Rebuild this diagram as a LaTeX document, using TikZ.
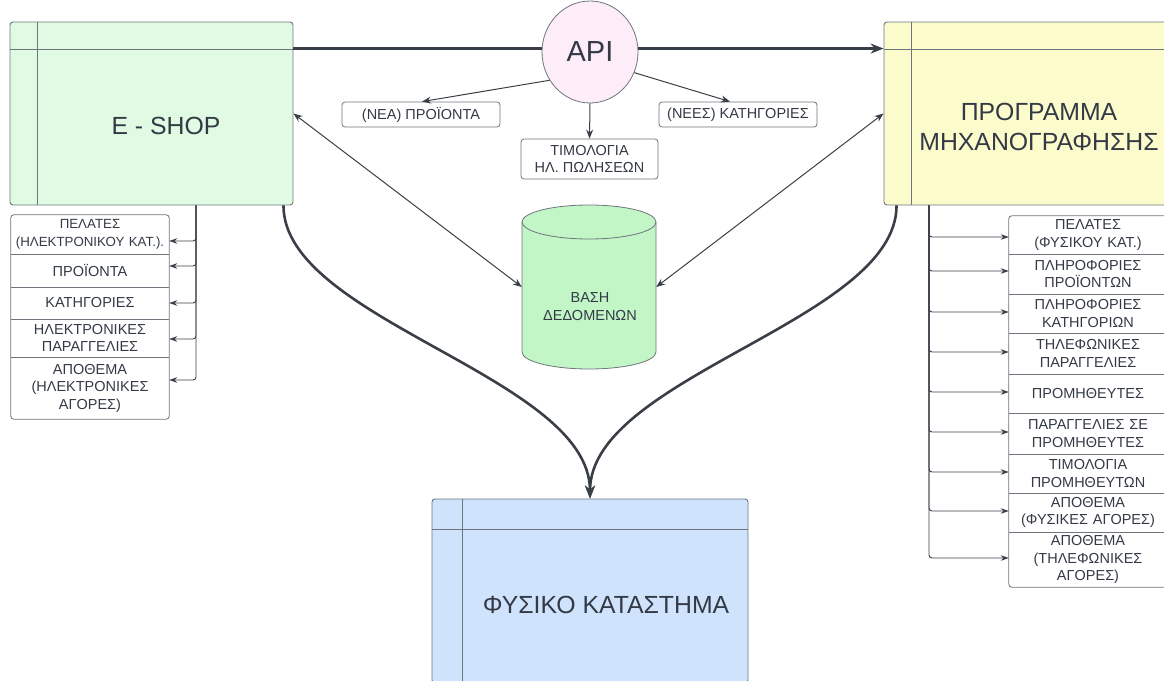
\documentclass[tikz,border=0pt]{standalone}
\usepackage{fontspec}
\setmainfont{Liberation Sans}
\usetikzlibrary{shapes.geometric,arrows.meta,calc}
\definecolor{txt}{HTML}{333A45}
\definecolor{bord}{HTML}{6E757D}
\definecolor{ln}{HTML}{3A3F47}
\definecolor{gfill}{HTML}{E1FAE3}
\definecolor{yfill}{HTML}{FCFBCB}
\definecolor{bfill}{HTML}{CFE4FC}
\definecolor{pfill}{HTML}{FDEDF8}
\definecolor{dbfill}{HTML}{C2F6C6}
\begin{document}
\begin{tikzpicture}[x=1pt,y=-1pt,
  bigbox/.style={draw=bord, line width=0.9pt, rounded corners=3pt, minimum width=283pt, minimum height=183pt, inner sep=0pt},
  hdr/.style={draw=bord, line width=0.9pt},
  bigtxt/.style={text=txt, font=\fontsize{24.8}{30}\selectfont, align=center, inner sep=0pt},
  lbl/.style={draw=bord, rounded corners=3pt, line width=0.8pt, fill=white, text=txt, font=\fontsize{14.5}{17.5}\selectfont, align=center, inner sep=0pt},
  listrow/.style={text=txt, font=\fontsize{14.5}{17.5}\selectfont, align=center, inner sep=0pt, minimum width=158pt, text width=158pt},
  listframe/.style={draw=bord, line width=0.8pt, rounded corners=3pt},
  sep/.style={draw=bord, line width=0.8pt},
  heavy/.style={draw=ln, line width=2.6pt},
  heavyarrow/.style={draw=ln, line width=2.6pt, -{Stealth[length=13pt,width=10pt]}},
  thinarrow/.style={draw=ln, line width=1pt, -{Stealth[length=9pt,width=7pt]}},
  dblarrow/.style={draw=ln, line width=1pt, {Stealth[length=9pt,width=7pt]}-{Stealth[length=9pt,width=7pt]}},
  bus/.style={draw=ln, line width=0.9pt, rounded corners=3pt, -{Stealth[length=8pt,width=5.5pt]}},
]
\useasboundingbox (0,0) rectangle (1164,680);

% ---------- big boxes ----------
\node[bigbox, fill=gfill] (eshop) at (151.5,113.5) {};
\draw[hdr] ([yshift=-28pt]eshop.north west) -- ([yshift=-28pt]eshop.north east);
\draw[hdr] ([xshift=28pt]eshop.north west) -- ([xshift=28pt]eshop.south west);
\node[bigtxt] (eshopt) at (166,126) {E - SHOP};

\node[bigbox, fill=yfill] (prog) at (1025.5,113.5) {};
\draw[hdr] ([yshift=-28pt]prog.north west) -- ([yshift=-28pt]prog.north east);
\draw[hdr] ([xshift=28pt]prog.north west) -- ([xshift=28pt]prog.south west);
\node[bigtxt] (progt) at (1039,127) {ΠΡΟΓΡΑΜΜΑ\\ΜΗΧΑΝΟΓΡΑΦΗΣΗΣ};

\node[bigbox, fill=bfill, minimum width=316pt, minimum height=184pt] (phys) at (590,591) {};
\draw[hdr] ([yshift=-31pt]phys.north west) -- ([yshift=-31pt]phys.north east);
\draw[hdr] ([xshift=31pt]phys.north west) -- ([xshift=31pt]phys.south west);
\node[bigtxt] (physt) at (606,605) {ΦΥΣΙΚΟ ΚΑΤΑΣΤΗΜΑ};

% ---------- API ----------
\node[ellipse, draw=bord, line width=0.8pt, fill=pfill, minimum width=96pt, minimum height=102pt, inner sep=0pt,
      text=txt, font=\fontsize{29}{29}\selectfont] (api) at (590,52) {API};

\node[lbl, minimum width=158pt, minimum height=25pt] (neu) at (421,114.5) {(ΝΕΑ) ΠΡΟΪΟΝΤΑ};
\node[lbl, minimum width=137pt, minimum height=40pt] (tim) at (589.5,159) {ΤΙΜΟΛΟΓΙΑ\\ΗΛ. ΠΩΛΗΣΕΩΝ};
\node[lbl, minimum width=158pt, minimum height=25pt] (kat) at (738,114.5) {(ΝΕΕΣ) ΚΑΤΗΓΟΡΙΕΣ};

% ---------- database ----------
\node[minimum width=134pt, minimum height=164pt, inner sep=0pt] (db) at (589,287) {};
\draw[draw=bord, fill=dbfill, line width=0.8pt]
  (522,222) -- (522,352) arc (180:360:67pt and 17pt) -- (656,222) arc (0:180:67pt and 17pt) -- cycle;
\draw[draw=bord, line width=0.8pt] (522,222) arc (180:360:67pt and 17pt);
\node[text=txt, font=\fontsize{14.5}{18}\selectfont, align=center, inner sep=0pt] (dbt) at (590,307) {ΒΑΣΗ\\ΔΕΔΟΜΕΝΩΝ};

% ---------- connectors ----------
\coordinate (eL) at ([yshift=-27pt]eshop.north east);
\coordinate (pL) at ([yshift=-27pt]prog.north west);
\draw[heavy] (eL) -- (eL -| api.west);
\draw[heavyarrow] (pL -| api.east) -- (pL);

\draw[thinarrow] (api.215) -- ([xshift=1pt]neu.north);
\draw[thinarrow] (api.south) -- (tim.north);
\draw[thinarrow] (api.335) -- ([xshift=-8pt]kat.north);

\draw[dblarrow] (eshop.east) -- (db.west);
\draw[dblarrow] (prog.west) -- (db.east);

\draw[heavyarrow] ([xshift=-10pt]eshop.south east) .. controls +(0,115) and +(0,-122) .. (phys.north);
\draw[heavyarrow] ([xshift=13pt]prog.south west) .. controls +(0,115) and +(0,-122) .. (phys.north);

% ---------- left list ----------
\node[listrow, minimum height=39pt, font=\fontsize{13.3}{17.5}\selectfont] (r1) at (90,234.5) {ΠΕΛΑΤΕΣ\\(ΗΛΕΚΤΡΟΝΙΚΟΥ ΚΑΤ.).};
\node[listrow, minimum height=33pt] (r2) at (90,270.5) {ΠΡΟΪΟΝΤΑ};
\node[listrow, minimum height=32pt] (r3) at (90,303) {ΚΑΤΗΓΟΡΙΕΣ};
\node[listrow, minimum height=38pt] (r4) at (90,338) {ΗΛΕΚΤΡΟΝΙΚΕΣ\\ΠΑΡΑΓΓΕΛΙΕΣ};
\node[listrow, minimum height=62pt] (r5) at (90,388) {ΑΠΟΘΕΜΑ\\(ΗΛΕΚΤΡΟΝΙΚΕΣ\\ΑΓΟΡΕΣ)};
\draw[listframe] (r1.north west) rectangle (r5.south east);
\foreach \n in {r1,r2,r3,r4} \draw[sep] (\n.south west) -- (\n.south east);

\coordinate (lb) at ([xshift=44.5pt]eshop.south);
\draw[bus] (lb) |- ([yshift=-6.5pt]r1.east);
\draw[bus] (lb) |- ([yshift=4.5pt]r2.east);
\draw[bus] (lb) |- (r3.east);
\draw[bus] (lb) |- ([yshift=-1pt]r4.east);
\draw[bus] (lb) |- ([yshift=8pt]r5.east);

% ---------- right list ----------
\node[listrow, minimum height=38pt] (q1) at (1088,235) {ΠΕΛΑΤΕΣ\\(ΦΥΣΙΚΟΥ ΚΑΤ.)};
\node[listrow, minimum height=40pt] (q2) at (1088,274) {ΠΛΗΡΟΦΟΡΙΕΣ\\ΠΡΟΪΟΝΤΩΝ};
\node[listrow, minimum height=39pt] (q3) at (1088,313.5) {ΠΛΗΡΟΦΟΡΙΕΣ\\ΚΑΤΗΓΟΡΙΩΝ};
\node[listrow, minimum height=41pt] (q4) at (1088,353.5) {ΤΗΛΕΦΩΝΙΚΕΣ\\ΠΑΡΑΓΓΕΛΙΕΣ};
\node[listrow, minimum height=39pt] (q5) at (1088,393.5) {ΠΡΟΜΗΘΕΥΤΕΣ};
\node[listrow, minimum height=41pt] (q6) at (1088,433.5) {ΠΑΡΑΓΓΕΛΙΕΣ ΣΕ\\ΠΡΟΜΗΘΕΥΤΕΣ};
\node[listrow, minimum height=39pt] (q7) at (1088,473.5) {ΤΙΜΟΛΟΓΙΑ\\ΠΡΟΜΗΘΕΥΤΩΝ};
\node[listrow, minimum height=39pt] (q8) at (1088,512.5) {ΑΠΟΘΕΜΑ\\(ΦΥΣΙΚΕΣ ΑΓΟΡΕΣ)};
\node[listrow, minimum height=55pt] (q9) at (1088,559.5) {ΑΠΟΘΕΜΑ\\(ΤΗΛΕΦΩΝΙΚΕΣ\\ΑΓΟΡΕΣ)};
\draw[listframe] (q1.north west) rectangle (q9.south east);
\foreach \n in {q1,q2,q3,q4,q5,q6,q7,q8} \draw[sep] (\n.south west) -- (\n.south east);

\coordinate (rb) at ([xshift=-96.5pt]prog.south);
\draw[bus] (rb) |- ([yshift=-2pt]q1.west);
\draw[bus] (rb) |- ([yshift=3pt]q2.west);
\foreach \n in {q3,q4,q5,q6,q7,q8,q9} \draw[bus] (rb) |- ([yshift=1.5pt]\n.west);
\end{tikzpicture}
\end{document}
